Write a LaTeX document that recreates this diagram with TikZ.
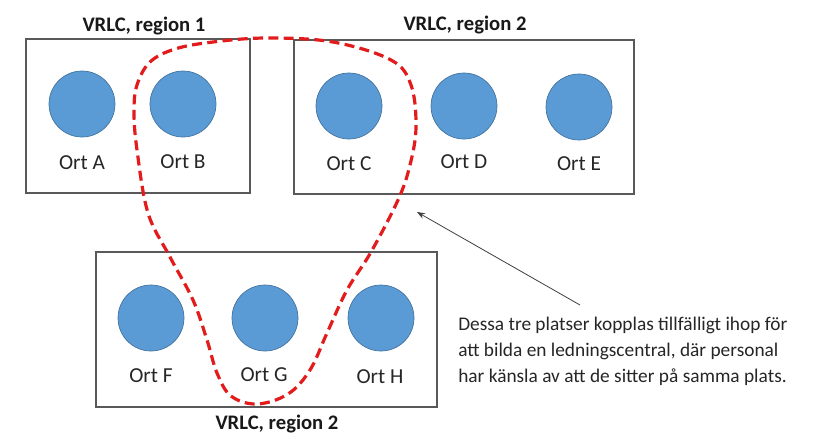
\documentclass[tikz,border=0pt]{standalone}
\usepackage{fontspec}
\setmainfont{Carlito}
\usetikzlibrary{arrows.meta}
\definecolor{ortblue}{RGB}{91,155,213}
\definecolor{ortedge}{RGB}{65,113,156}
\definecolor{boxgray}{RGB}{89,89,89}
\definecolor{dashred}{RGB}{226,28,28}
\tikzset{
  regionbox/.style={draw=boxgray, line width=0.9pt, fill=none, inner sep=0pt},
  ort/.style={circle, fill=ortblue, draw=ortedge, line width=0.5pt, minimum size=49.5pt, inner sep=0pt},
  ortlabel/.style={font=\fontsize{16}{19}\selectfont, inner sep=0pt, text=black!85},
  regiontitle/.style={font=\fontsize{15.5}{18}\selectfont\bfseries, inner sep=0pt, text=black!90},
  note/.style={font=\fontsize{14.5}{19.5}\selectfont, align=left, inner sep=0pt, anchor=west, text=black!85},
  pointer/.style={draw=black!75, line width=0.6pt, -{Stealth[length=6pt,width=4.5pt]}},
  group/.style={draw=dashred, line width=2.4pt, dash pattern=on 7.5pt off 4pt}
}
\begin{document}
\begin{tikzpicture}[x=0.75pt, y=-0.75pt]
\useasboundingbox[fill=white] (0,0) rectangle (834,444);
% region boxes
\node[regionbox, minimum width=168pt, minimum height=115.5pt] (box1) at (138,116) {};
\node[regionbox, minimum width=255pt, minimum height=115.5pt] (box2) at (464,117) {};
\node[regionbox, minimum width=255.75pt, minimum height=116.25pt] (box3) at (266.5,329.5) {};
% titles
\node[regiontitle] (t1) at (144,26) {VRLC, region 1};
\node[regiontitle] (t2) at (465,25) {VRLC, region 2};
\node[regiontitle] (t3) at (277,424) {VRLC, region 2};
% places
\node[ort] (A) at (82,104) {};
\node[ort] (B) at (183,104) {};
\node[ort] (C) at (349,106) {};
\node[ort] (D) at (464,106) {};
\node[ort] (E) at (579,107) {};
\node[ort] (F) at (151,318) {};
\node[ort] (G) at (265,318) {};
\node[ort] (H) at (381,318) {};
\node[ortlabel] (lA) at (82,163) {Ort A};
\node[ortlabel] (lB) at (183,162) {Ort B};
\node[ortlabel] (lC) at (349,164) {Ort C};
\node[ortlabel] (lD) at (464,162) {Ort D};
\node[ortlabel] (lE) at (579,164) {Ort E};
\node[ortlabel] (lF) at (151,376) {Ort F};
\node[ortlabel] (lG) at (264,375) {Ort G};
\node[ortlabel] (lH) at (380,377) {Ort H};
% dashed grouping curve
\draw[group] plot[smooth cycle, tension=0.6] coordinates {
 (137,85) (150,62) (175,49) (213,42) (267,38) (333,42) (391,60) (411,85)
 (416,127) (410,165) (398,200) (371,252) (347,290) (327,333) (310,370)
 (288,394) (257,404) (231,396) (217,373) (207,340) (193,300) (170,257)
 (148,213) (137,150) (134,112)};
% note and pointer
\node[note] (note) at (458,351) {Dessa tre platser kopplas tillfälligt ihop för\\att bilda en ledningscentral, där personal\\har känsla av att de sitter på samma plats.};
\coordinate (pstart) at (580,305);
\coordinate (pend) at (417,212);
\draw[pointer] (pstart) -- (pend);
\end{tikzpicture}
\end{document}
